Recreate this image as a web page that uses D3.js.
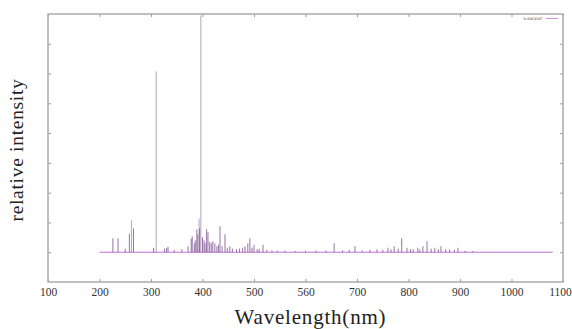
<!DOCTYPE html>
<html>
<head>
<meta charset="utf-8">
<script src="https://cdn.jsdelivr.net/npm/d3@7"></script>
<style>
  body { margin: 0; background: #fff; }
  .tick text { font-family: "Liberation Serif", serif; fill: #333; }
  .label { font-family: "Liberation Serif", serif; fill: #222; }
</style>
</head>
<body>
<svg width="572" height="329"></svg>
<script>
// x ticks and the labels as printed (the 600 tick reads "560" in the original)
const xTicks = [100, 200, 300, 400, 500, 600, 700, 800, 900, 1000, 1100];
const xTickLabels = ['100', '200', '300', '400', '500', '560', '700', '800', '900', '1000', '1100'];
const yTicks = [0, 1, 2, 3, 4, 5, 6, 7];

// emission lines: wavelength (nm) and relative intensity
const lineNm = [226, 236, 250, 258, 262, 266, 305, 310, 326, 330, 333, 345, 360, 372, 378, 380, 384, 386,
  389, 391, 393.4, 394.5, 396.8, 400, 403, 405, 408, 410.6, 414, 417, 420, 424, 428, 431, 434, 438, 443.7,
  448, 453, 458, 466, 472, 478, 482.5, 488, 492, 496, 500, 506, 510, 517.5, 525, 535, 545, 560, 580, 600,
  620, 640, 655.6, 672, 685, 696, 710, 725, 738.8, 750, 760, 766, 772, 780, 786.8, 797, 804, 809, 818,
  822, 828, 836, 844, 851, 858, 863, 872, 880, 889, 896, 910, 925];
const lineVal = [0.47, 0.47, 0.12, 0.62, 1.07, 0.8, 0.15, 6.07, 0.12, 0.14, 0.18, 0.08, 0.1, 0.2, 0.45, 0.54, 0.3, 0.4,
  0.77, 0.6, 1.13, 0.8, 7.95, 0.5, 0.4, 0.3, 0.77, 0.67, 0.35, 0.3, 0.37, 0.3, 0.2, 0.25, 0.87, 0.2, 0.6,
  0.15, 0.2, 0.12, 0.1, 0.12, 0.15, 0.2, 0.3, 0.47, 0.15, 0.25, 0.1, 0.12, 0.25, 0.08, 0.06, 0.05, 0.05, 0.04, 0.05,
  0.05, 0.06, 0.3, 0.06, 0.08, 0.2, 0.06, 0.08, 0.1, 0.08, 0.15, 0.1, 0.2, 0.12, 0.47, 0.15, 0.1, 0.1, 0.15,
  0.1, 0.2, 0.37, 0.12, 0.15, 0.1, 0.2, 0.1, 0.1, 0.08, 0.15, 0.05, 0.04];

// continuum baseline
const baseNm = [200, 1080];
const baseVal = [0, 0];

const margin = { top: 14, right: 9, bottom: 47, left: 48 };
const width = 572 - margin.left - margin.right;
const height = 329 - margin.top - margin.bottom;

const x = d3.scaleLinear().domain([100, 1100]).range([0, width]);
const y = d3.scaleLinear().domain([-1, 8]).range([height, 0]);

const svg = d3.select('svg')
  .append('g')
  .attr('transform', `translate(${margin.left}, ${margin.top})`);

// baseline
svg.append('path')
  .datum(baseNm.map((d, i) => [d, baseVal[i]]))
  .attr('fill', 'none')
  .attr('stroke', '#c070d0')
  .attr('stroke-width', 1)
  .attr('d', d3.line().x(d => x(d[0])).y(d => y(d[1])));

// spectral lines
svg.selectAll('.spike')
  .data(lineNm)
  .enter()
  .append('line')
  .attr('class', 'spike')
  .attr('x1', d => x(d))
  .attr('x2', d => x(d))
  .attr('y1', y(0))
  .attr('y2', (d, i) => y(lineVal[i]))
  .attr('stroke', (d, i) => lineVal[i] > 1 ? '#9a80a8' : '#74448a')
  .attr('stroke-opacity', 0.75)
  .attr('stroke-width', 1);

// axes with inward mirrored ticks
const axisStyle = g => {
  g.select('.domain').remove();
  g.selectAll('.tick line').attr('stroke', '#999');
};

const xAxis = svg.append('g')
  .attr('transform', `translate(0, ${height})`)
  .call(d3.axisBottom(x).tickValues(xTicks).tickSize(-3).tickPadding(6)
    .tickFormat((d, i) => xTickLabels[i]))
  .call(axisStyle);
xAxis.selectAll('text')
  .style('font-size', '11.5px')
  .attr('dx', (d, i) => i === xTicks.length - 1 ? -3 : 0);

svg.append('g')
  .call(d3.axisTop(x).tickValues(xTicks).tickSize(-3).tickFormat(''))
  .call(axisStyle);

svg.append('g')
  .call(d3.axisLeft(y).tickValues(yTicks).tickSize(-3).tickFormat(''))
  .call(axisStyle);

svg.append('g')
  .attr('transform', `translate(${width}, 0)`)
  .call(d3.axisRight(y).tickValues(yTicks).tickSize(-3).tickFormat(''))
  .call(axisStyle);

// frame
svg.append('rect')
  .attr('width', width)
  .attr('height', height)
  .attr('fill', 'none')
  .attr('stroke', '#aaa')
  .attr('stroke-width', 1.5);

// legend
svg.append('text')
  .attr('x', width - 20)
  .attr('y', 6)
  .attr('text-anchor', 'end')
  .style('font-family', 'DejaVu Sans, sans-serif')
  .style('font-size', '4px')
  .style('fill', '#555')
  .text("'o.datatxt'");

svg.append('line')
  .attr('x1', width - 17)
  .attr('x2', width - 5)
  .attr('y1', 4.5)
  .attr('y2', 4.5)
  .attr('stroke', '#c070d0')
  .attr('stroke-width', 0.8);

// axis titles
svg.append('text')
  .attr('class', 'label')
  .attr('x', width / 2 + 5)
  .attr('y', height + 42)
  .attr('text-anchor', 'middle')
  .style('font-size', '21px')
  .style('letter-spacing', '0.8px')
  .text('Wavelength(nm)');

svg.append('text')
  .attr('class', 'label')
  .attr('transform', 'rotate(-90)')
  .attr('x', -(150 - margin.top))
  .attr('y', -margin.left + 23)
  .attr('text-anchor', 'middle')
  .style('font-size', '19.5px')
  .style('letter-spacing', '0.7px')
  .text('relative intensity');
</script>
</body>
</html>
